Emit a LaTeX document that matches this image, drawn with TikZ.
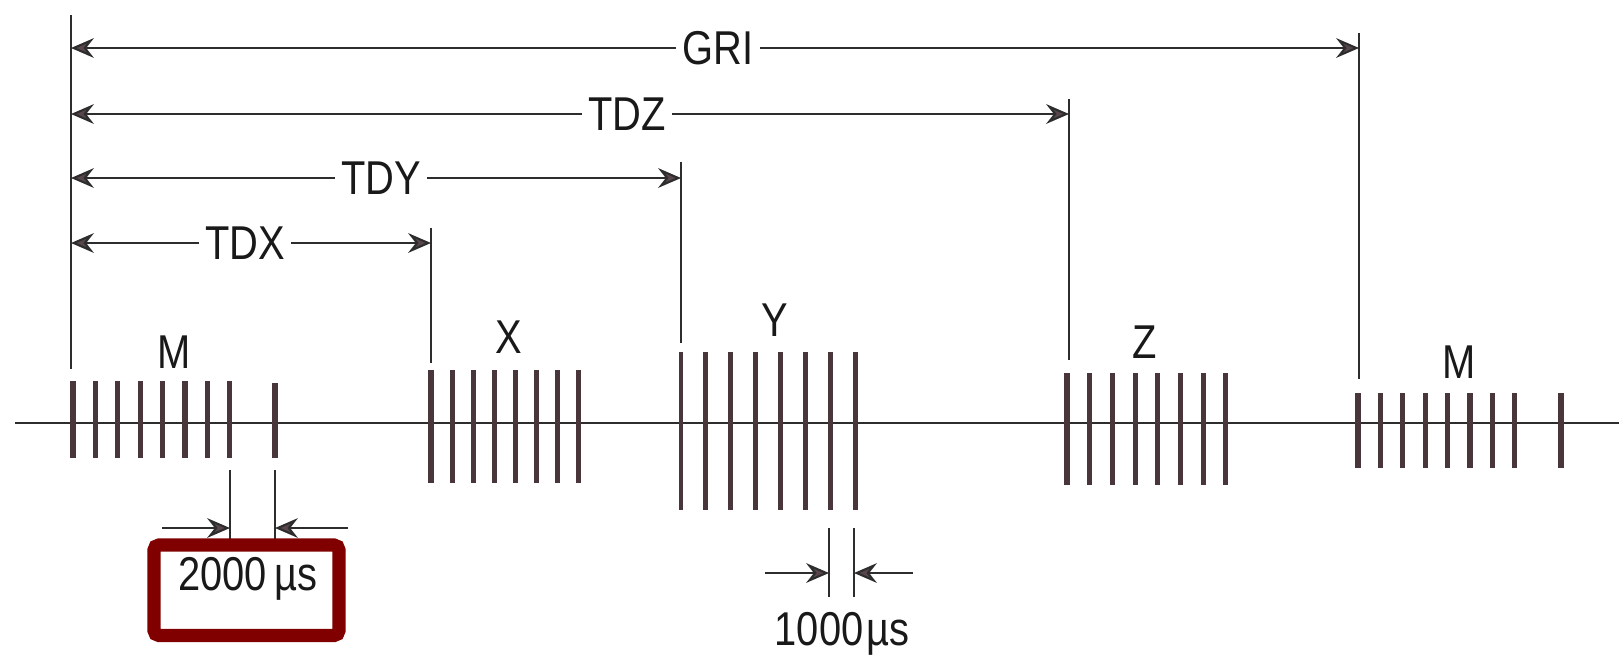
\documentclass[tikz,border=0pt]{standalone}
\usepackage{fontspec}
\setmainfont{Liberation Sans}[FakeStretch=0.84]
\usetikzlibrary{arrows.meta}
\definecolor{linec}{RGB}{45,45,45}
\definecolor{pulsec}{RGB}{72,54,58}
\definecolor{arrc}{RGB}{88,70,74}
\definecolor{boxred}{RGB}{128,0,0}
\newcommand\labfont{\fontsize{13.5}{16}\selectfont}
\tikzset{
  dimline/.style={line width=0.6pt, draw=linec},
  pulse/.style={line width=1.45pt, draw=pulsec},
  baseln/.style={line width=0.75pt, draw=linec},
  arrowed/.style={-{Stealth[length=6.5pt,width=5.6pt,inset=2.2pt,fill=arrc]}},
  lab/.style={font=\labfont, inner sep=1.6pt, text=black!90},
  redbox/.style={draw=boxred, line width=3.8pt, rounded corners=1.5pt},
}
\begin{document}
\begin{tikzpicture}[x=0.01cm,y=-0.01cm]
\useasboundingbox (0,0) rectangle (1619,654);

% baseline
\coordinate (b0) at (15,423);
\coordinate (b1) at (1619,423);
\draw[baseln] (b0) -- (b1);

% reference vertical lines
\coordinate (L0t) at (71,15);   \coordinate (L0b) at (71,369);
\coordinate (Xt) at (431,228);  \coordinate (Xb) at (431,363);
\coordinate (Yt) at (681,162);  \coordinate (Yb) at (681,343);
\coordinate (Zt) at (1069,99);  \coordinate (Zb) at (1069,360);
\coordinate (Gt) at (1359,33);  \coordinate (Gb) at (1359,379);
\draw[dimline] (L0t) -- (L0b);
\draw[dimline] (Xt) -- (Xb);
\draw[dimline] (Yt) -- (Yb);
\draw[dimline] (Zt) -- (Zb);
\draw[dimline] (Gt) -- (Gb);

% dimension arrows with labels
\node[lab] (gri) at (718,48) {GRI};
\coordinate (griL) at (71,48); \coordinate (griR) at (1359,48);
\draw[dimline,arrowed] (gri) -- (griL);
\draw[dimline,arrowed] (gri) -- (griR);

\node[lab] (tdz) at (627,114) {TDZ};
\coordinate (tdzL) at (71,114); \coordinate (tdzR) at (1069,114);
\draw[dimline,arrowed] (tdz) -- (tdzL);
\draw[dimline,arrowed] (tdz) -- (tdzR);

\node[lab] (tdy) at (381,178) {TDY};
\coordinate (tdyL) at (71,178); \coordinate (tdyR) at (681,178);
\draw[dimline,arrowed] (tdy) -- (tdyL);
\draw[dimline,arrowed] (tdy) -- (tdyR);

\node[lab] (tdx) at (245,243) {TDX};
\coordinate (tdxL) at (71,243); \coordinate (tdxR) at (431,243);
\draw[dimline,arrowed] (tdx) -- (tdxL);
\draw[dimline,arrowed] (tdx) -- (tdxR);

% group labels
\node[lab] (m1) at (174,352) {M};
\node[lab] (xl) at (509,337) {X};
\node[lab] (yl) at (775,320) {Y};
\node[lab] (zl) at (1145,342) {Z};
\node[lab] (m2) at (1459,362) {M};

% pulse groups
\foreach \i in {0,...,7} \draw[pulse] ({73+22.4*\i},381) -- ({73+22.4*\i},458);
\draw[pulse] (275,383) -- (275,458);
\foreach \i in {0,...,7} \draw[pulse] ({431+21.1*\i},370) -- ({431+21.1*\i},483);
\draw[pulse, line width=0.9pt] (681,352) -- (681,510);
\foreach \i in {1,...,7} \draw[pulse] ({681+24.9*\i},352) -- ({681+24.9*\i},510);
\foreach \i in {0,...,7} \draw[pulse] ({1067+22.7*\i},373) -- ({1067+22.7*\i},485);
\foreach \i in {0,...,7} \draw[pulse] ({1358+22.4*\i},393) -- ({1358+22.4*\i},468);
\draw[pulse] (1561,393) -- (1561,468);

% 2000 us dimension
\coordinate (e1t) at (230,470); \coordinate (e1b) at (230,539);
\coordinate (e2t) at (275,470); \coordinate (e2b) at (275,539);
\draw[dimline] (e1t) -- (e1b);
\draw[dimline] (e2t) -- (e2b);
\coordinate (a1s) at (162,528); \coordinate (a1e) at (230,528);
\coordinate (a2s) at (348,528); \coordinate (a2e) at (275,528);
\draw[dimline,arrowed] (a1s) -- (a1e);
\draw[dimline,arrowed] (a2s) -- (a2e);
\node[lab] (t2000) at (248,579) {2000\,µs};
\draw[redbox] (154,545) rectangle (339,635.5);

% 1000 us dimension
\coordinate (f1t) at (829,528); \coordinate (f1b) at (829,597);
\coordinate (f2t) at (854,528); \coordinate (f2b) at (854,597);
\draw[dimline] (f1t) -- (f1b);
\draw[dimline] (f2t) -- (f2b);
\coordinate (c1s) at (765,573); \coordinate (c1e) at (829,573);
\coordinate (c2s) at (913,573); \coordinate (c2e) at (854,573);
\draw[dimline,arrowed] (c1s) -- (c1e);
\draw[dimline,arrowed] (c2s) -- (c2e);
\node[lab] (t1000) at (842,634) {1000\kern0.8ptµs};
\end{tikzpicture}
\end{document}
